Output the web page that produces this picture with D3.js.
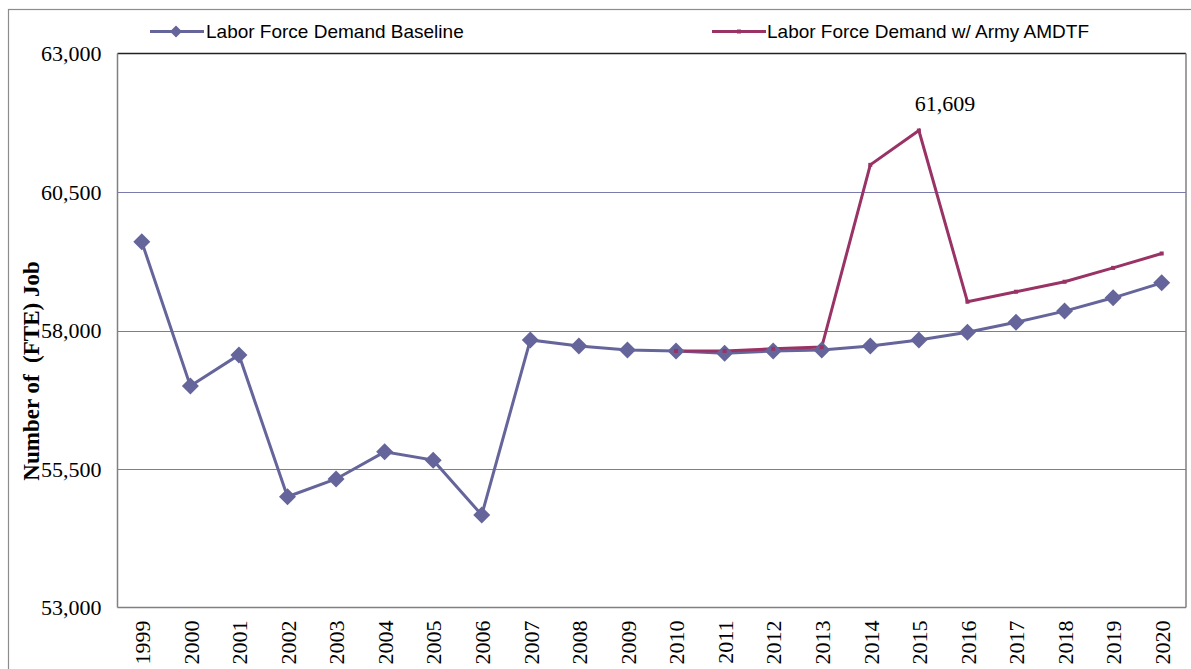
<!DOCTYPE html>
<html><head><meta charset="utf-8">
<script src="https://cdn.jsdelivr.net/npm/d3@7"></script>
<style>body{margin:0;background:#fff;} svg{display:block;}</style>
</head><body>
<svg id="chart" width="1191" height="669"></svg>
<script>
const years = ["1999","2000","2001","2002","2003","2004","2005","2006","2007","2008","2009","2010","2011","2012","2013","2014","2015","2016","2017","2018","2019","2020"];
const baseline = [59600,57000,57560,55000,55320,55810,55660,54670,57830,57720,57650,57630,57590,57630,57650,57720,57830,57970,58150,58350,58590,58860];
const amdtfYears = ["2010","2011","2012","2013","2014","2015","2016","2017","2018","2019","2020"];
const amdtf = [57630,57630,57670,57700,60990,61609,58520,58700,58880,59130,59390];
const yTicks = [53000,55500,58000,60500,63000];
const seriesNames = ["Labor Force Demand Baseline","Labor Force Demand w/ Army AMDTF"];
const peakLabel = "61,609";

const svg = d3.select("#chart");
const L = 117.5, R = 1186, T = 53.5, B = 607.5;
const x = d3.scalePoint().domain(years).range([L, R]).padding(0.5);
const y = d3.scaleLinear().domain([53000, 63000]).range([B, T]);
const cBase = "#65659b", cAm = "#993366";
const serif = "Liberation Serif, Times New Roman, serif";

// outer frame
svg.append("rect").attr("x",8.5).attr("y",9.5).attr("width",1200).attr("height",700)
  .attr("fill","none").attr("stroke","#8c8c8c").attr("stroke-width",1.2);

// gridlines
svg.append("g").selectAll("line").data(yTicks.slice(1,-1)).join("line")
  .attr("x1",L).attr("x2",R).attr("y1",d=>Math.round(y(d))+0.5).attr("y2",d=>Math.round(y(d))+0.5)
  .attr("stroke","#7a7aae").attr("stroke-width",1);

// plot border
svg.append("line").attr("x1",L).attr("x2",R).attr("y1",T).attr("y2",T).attr("stroke","#222").attr("stroke-width",1.5);
svg.append("line").attr("x1",L).attr("x2",L).attr("y1",T).attr("y2",B).attr("stroke","#808080").attr("stroke-width",1.5);
svg.append("line").attr("x1",R).attr("x2",R).attr("y1",T).attr("y2",B).attr("stroke","#808080").attr("stroke-width",1.5);
svg.append("line").attr("x1",L).attr("x2",R).attr("y1",B).attr("y2",B).attr("stroke","#808080").attr("stroke-width",1.5);

// y axis
const yAxis = d3.axisLeft(y).tickValues(yTicks).tickFormat(d3.format(",")).tickSize(0).tickPadding(16);
const ga = svg.append("g").attr("transform",`translate(${L},0)`).call(yAxis);
ga.select(".domain").remove();
ga.selectAll("text").attr("font-family",serif).attr("font-size",22).attr("fill","#000").attr("dy","0.32em");

// x axis labels
const xAxis = d3.axisBottom(x).tickSize(0).tickPadding(0);
const gx = svg.append("g").attr("transform",`translate(0,${B})`).call(xAxis);
gx.select(".domain").remove();
gx.selectAll("text").attr("font-family",serif).attr("font-size",22).attr("fill","#000")
  .attr("text-anchor","end").attr("dy","0.35em").attr("y",0)
  .attr("transform","translate(0,13) rotate(-90)");

// y title
svg.append("text").attr("transform","translate(31,371) rotate(-90)")
  .attr("text-anchor","middle").attr("dy","0.35em")
  .attr("font-family",serif).attr("font-weight","bold").attr("font-size",23)
  .style("white-space","pre").text("Number of  (FTE) Job");

// lines
const line = d3.line().x(d=>x(d[0])).y(d=>y(d[1]));
const basePts = years.map((yr,i)=>[yr,baseline[i]]);
const amPts = amdtfYears.map((yr,i)=>[yr,amdtf[i]]);
svg.append("path").datum(basePts).attr("d",line).attr("fill","none").attr("stroke",cBase).attr("stroke-width",3);
svg.append("path").datum(amPts).attr("d",line).attr("fill","none").attr("stroke",cAm).attr("stroke-width",3);

const diamond = r => `M0,${-r}L${r},0L0,${r}L${-r},0Z`;
svg.append("g").selectAll("path").data(basePts).join("path")
  .attr("transform",d=>`translate(${x(d[0])},${y(d[1])})`).attr("d",diamond(8.5)).attr("fill",cBase);
svg.append("g").selectAll("rect").data(amPts).join("rect")
  .attr("x",d=>x(d[0])-2).attr("y",d=>y(d[1])-2).attr("width",4).attr("height",4).attr("fill",cAm);

// annotation
svg.append("text").attr("x",x("2015")+26).attr("y",y(61609)-20)
  .attr("text-anchor","middle").attr("font-family",serif).attr("font-size",22)
  .text(peakLabel);

// legend
const lg = svg.append("g").attr("font-family","Liberation Sans, Arial, sans-serif").attr("font-size",19);
lg.append("line").attr("x1",150).attr("x2",204).attr("y1",31.5).attr("y2",31.5).attr("stroke",cBase).attr("stroke-width",3);
lg.append("path").attr("transform","translate(176,31.5)").attr("d",diamond(6)).attr("fill",cBase);
lg.append("text").attr("x",206).attr("y",31.5).attr("dy","0.35em").text(seriesNames[0]);
lg.append("line").attr("x1",712).attr("x2",766).attr("y1",31.5).attr("y2",31.5).attr("stroke",cAm).attr("stroke-width",3);
lg.append("rect").attr("x",737).attr("y",29.5).attr("width",4).attr("height",4).attr("fill",cAm);
lg.append("text").attr("x",767).attr("y",31.5).attr("dy","0.35em").text(seriesNames[1]);
</script>
</body></html>
